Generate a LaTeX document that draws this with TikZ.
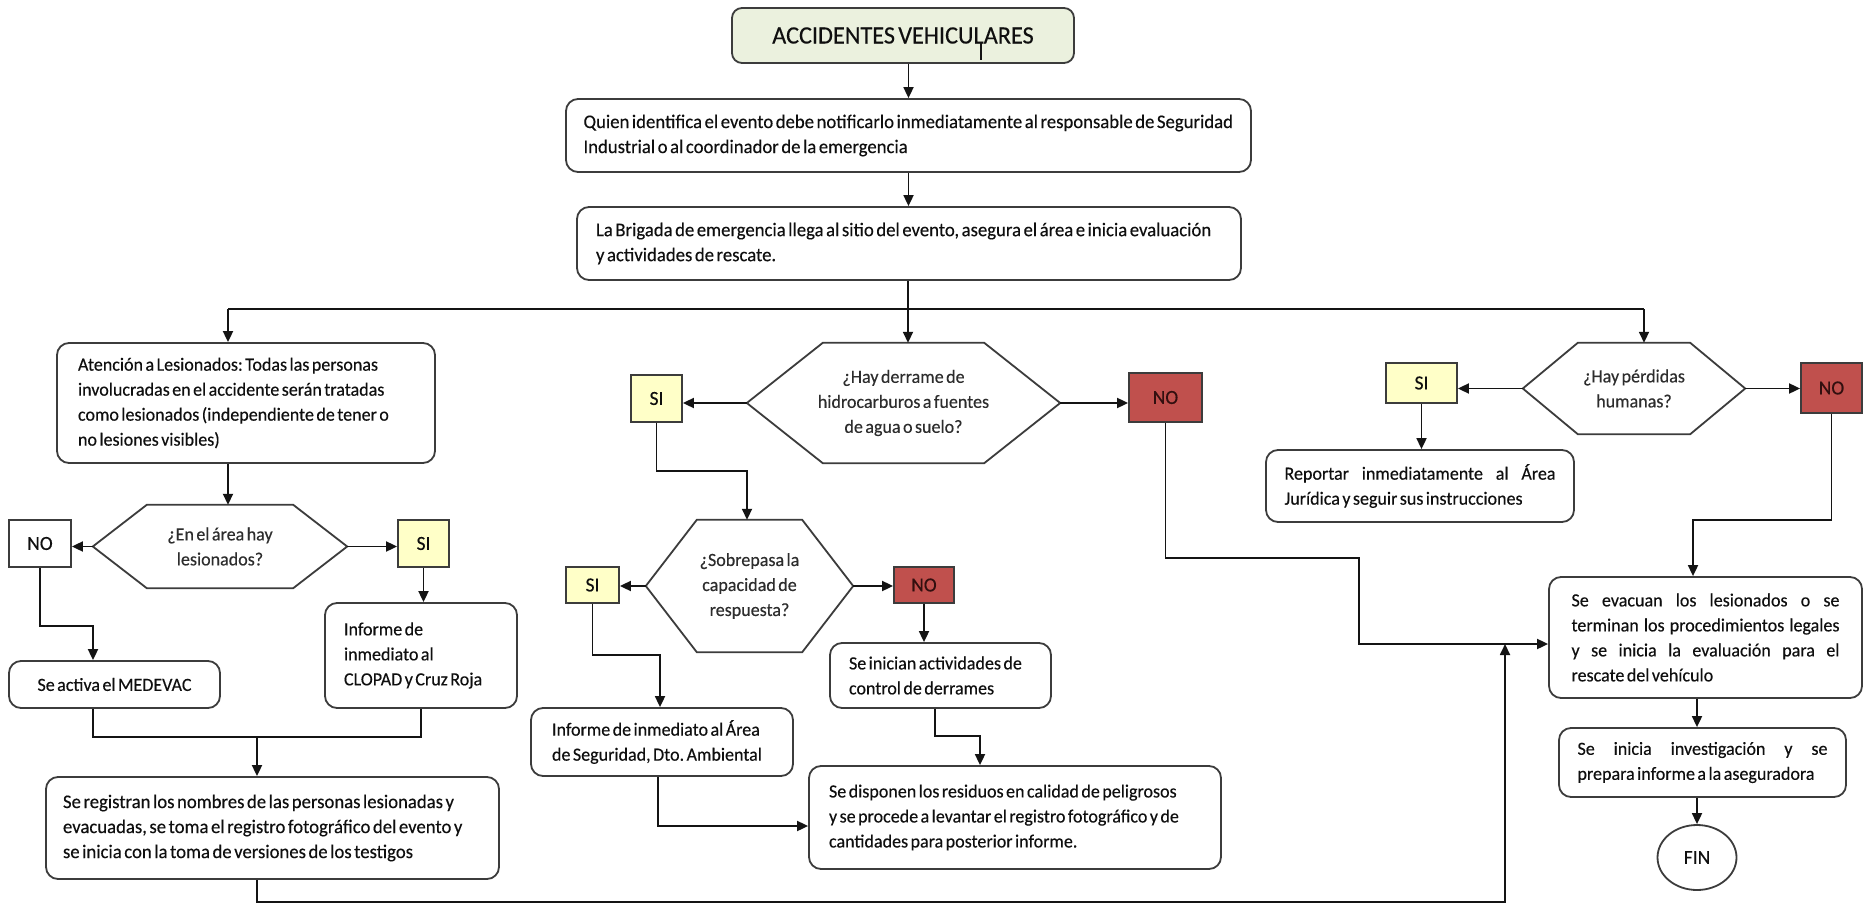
\documentclass[tikz,border=0pt]{standalone}
\usepackage{fontspec}
\setmainfont{Carlito}[FakeStretch=0.97,WordSpace=0.6,FakeBold=0.3]
\usetikzlibrary{arrows.meta,calc,shapes.geometric}
\definecolor{bordc}{RGB}{60,60,60}
\definecolor{linec}{RGB}{20,20,20}
\definecolor{yelf}{RGB}{255,255,200}
\definecolor{redf}{RGB}{192,80,77}
\definecolor{redt}{RGB}{50,15,15}
\definecolor{grnf}{RGB}{235,241,222}
\definecolor{txtc}{RGB}{15,15,15}
\definecolor{hext}{RGB}{45,45,45}
\newcommand{\fsz}{\fontsize{18.6}{25}\selectfont}
\newcommand{\fszb}{\fontsize{19.3}{25}\selectfont}
\newcommand{\jstline}[2]{\makebox[#1][s]{#2}}
\newcommand{\lftline}[2]{\makebox[#1][l]{#2}}
\newcommand{\hexdraw}[2]{%
  \draw[draw=bordc, line width=1.8pt] (#1.west) -- ([xshift=#2pt]#1.north west) -- ([xshift=-#2pt]#1.north east) -- (#1.east) -- ([xshift=-#2pt]#1.south east) -- ([xshift=#2pt]#1.south west) -- cycle;}
\frenchspacing
\begin{document}
\begin{tikzpicture}[x=1pt,y=-1pt,
  box/.style={draw=bordc, line width=1.8pt, rounded corners=12pt, fill=white, inner sep=0pt, align=center, font=\fsz, text=txtc},
  bigbox/.style={box, font=\fszb},
  sbox/.style={draw=bordc, line width=1.8pt, inner sep=0pt, font=\fontsize{20}{24}\selectfont, text=txtc},
  ybox/.style={sbox, fill=yelf},
  rbox/.style={sbox, fill=redf, text=redt},
  wbox/.style={sbox, fill=white},
  hexn/.style={inner sep=0pt, align=center, font=\fsz, text=hext},
  arr/.style={draw=linec, line width=1.8pt, -{Triangle[length=11pt,width=10pt]}},
  ln/.style={draw=linec, line width=1.8pt},
]
\useasboundingbox (0,0) rectangle (1868,904);
\fill[white] (0,0) rectangle (1868,904);

% ---- top
\node[box, fill=grnf, rounded corners=10pt, minimum width=342pt, minimum height=55pt, font=\fontsize{25}{28}\selectfont] (title) at (903,35.5) {ACCIDENTES VEHICULARES};
\draw[line width=1.5pt, linec] (981,42) -- (981,60);
\node[bigbox, minimum width=685pt, minimum height=73pt] (b1) at (908.5,135.5) {\lftline{650pt}{Quien identifica el evento debe notificarlo inmediatamente al responsable de Seguridad}\\\lftline{650pt}{Industrial o al coordinador de la emergencia}};
\node[bigbox, minimum width=664pt, minimum height=73pt] (b2) at (909,243.5) {\lftline{626pt}{La Brigada de emergencia llega al sitio del evento, asegura el área e inicia evaluación}\\\lftline{626pt}{y actividades de rescate.}};

% ---- left branch
\node[box, minimum width=378pt, minimum height=120pt] (aten) at (246,403) {\lftline{336pt}{Atención a Lesionados: Todas las personas}\\\lftline{336pt}{involucradas en el accidente serán tratadas}\\\lftline{336pt}{como lesionados (independiente de tener o}\\\lftline{336pt}{no lesiones visibles)}};
\node[hexn, minimum width=254pt, minimum height=83pt] (h1) at (220,546.5) {¿En el área hay\\lesionados?};
\hexdraw{h1}{54}
\node[wbox, minimum width=62pt, minimum height=47pt] (no1) at (40,543.5) {NO};
\node[ybox, minimum width=51pt, minimum height=47pt] (si1) at (423.5,543.5) {SI};
\node[box, minimum width=192pt, minimum height=105pt] (clopad) at (421,655.5) {\lftline{154pt}{Informe de}\\\lftline{154pt}{inmediato al}\\\lftline{154pt}{CLOPAD y Cruz Roja}};
\node[box, minimum width=211pt, minimum height=47pt] (medevac) at (114.5,684.5) {Se activa el MEDEVAC};
\node[bigbox, minimum width=453pt, minimum height=102pt] (reg) at (272.5,828) {\lftline{419pt}{Se registran los nombres de las personas lesionadas y}\\\lftline{419pt}{evacuadas, se toma el registro fotográfico del evento y}\\\lftline{419pt}{se inicia con la toma de versiones de los testigos}};

% ---- middle branch
\node[hexn, minimum width=313pt, minimum height=120pt] (h2) at (903.5,403) {¿Hay derrame de\\hidrocarburos a fuentes\\de agua o suelo?};
\hexdraw{h2}{76}
\node[ybox, minimum width=51pt, minimum height=47pt] (si2) at (656.5,398.5) {SI};
\node[rbox, minimum width=73pt, minimum height=49pt] (no2) at (1165.5,397.5) {NO};
\node[hexn, minimum width=207pt, minimum height=132pt] (h3) at (749.5,586) {¿Sobrepasa la\\capacidad de\\respuesta?};
\hexdraw{h3}{51}
\node[ybox, minimum width=53pt, minimum height=36pt] (si3) at (592.5,585) {SI};
\node[rbox, minimum width=60pt, minimum height=36pt] (no3) at (924,585) {NO};
\node[box, minimum width=262pt, minimum height=68pt] (area) at (662,742) {\lftline{220pt}{Informe de inmediato al Área}\\\lftline{220pt}{de Seguridad, Dto. Ambiental}};
\node[box, minimum width=221pt, minimum height=65pt] (inician) at (940.5,675.5) {\lftline{183pt}{Se inician actividades de}\\\lftline{183pt}{control de derrames}};
\node[box, minimum width=412pt, minimum height=103pt] (disponen) at (1015,817.5) {\lftline{372pt}{Se disponen los residuos en calidad de peligrosos}\\\lftline{372pt}{y se procede a levantar el registro fotográfico y de}\\\lftline{372pt}{cantidades para posterior informe.}};

% ---- right branch
\node[hexn, minimum width=222pt, minimum height=91pt] (h4) at (1634,388.5) {¿Hay pérdidas\\humanas?};
\hexdraw{h4}{55}
\node[ybox, minimum width=71pt, minimum height=40pt] (si4) at (1421.5,383) {SI};
\node[rbox, minimum width=61pt, minimum height=50pt] (no4) at (1831.5,388) {NO};
\node[box, minimum width=308pt, minimum height=72pt] (reportar) at (1420,486) {\jstline{271pt}{Reportar inmediatamente al Área}\\\lftline{271pt}{Jurídica y seguir sus instrucciones}};
\node[box, minimum width=313pt, minimum height=121pt] (evacuan) at (1705.5,637.5) {\jstline{268pt}{Se evacuan los lesionados o se}\\\jstline{268pt}{terminan los procedimientos legales}\\\jstline{268pt}{y se inicia la evaluación para el}\\\lftline{268pt}{rescate del vehículo}};
\node[box, minimum width=287pt, minimum height=69pt] (invest) at (1702.5,762.5) {\jstline{250pt}{Se inicia investigación y se}\\\lftline{250pt}{prepara informe a la aseguradora}};
\node[draw=bordc, line width=1.8pt, ellipse, inner sep=0pt, minimum width=79pt, minimum height=65pt, font=\fontsize{20}{24}\selectfont, text=txtc] (fin) at (1697,857.5) {FIN};

% ---- junction coordinates
\coordinate (j0) at (908,309);
\coordinate (jl) at (228,309);
\coordinate (jr) at (1644,309);
\coordinate (c1) at (93,626);
\coordinate (c2) at (257,737);
\coordinate (c3) at (1505,902);
\coordinate (c5) at (1359,644);
\coordinate (c6) at (1359,558);
\coordinate (c7) at (747,471);
\coordinate (c8) at (660,655);
\coordinate (c9) at (658,826);
\coordinate (c10) at (935,736);
\coordinate (c11) at (980,736);
\coordinate (c12) at (1693,520);

% ---- connectors
\draw[arr] (title.south -| b1.north) -- (b1.north);
\draw[arr] (b1.south) -- (b1.south |- b2.north);
\draw[ln] (b2.south -| j0) -- (j0);
\draw[ln] (jl) -- (jr);
\draw[arr] (jl) -- (jl |- aten.north);
\draw[arr] (j0) -- (j0 |- h2.north);
\draw[arr] (jr) -- (jr |- h4.north);

\draw[arr] (aten.south -| jl) -- (h1.north -| jl);
\draw[arr] (h1.west) -- (h1.west -| no1.east);
\draw[arr] (h1.east) -- (h1.east -| si1.west);
\draw[arr] (si1.south) -- (si1.south |- clopad.north);
\draw[arr] (no1.south) |- (c1) -- (c1 |- medevac.north);
\draw[ln] (medevac.south -| c1) |- (clopad.south |- c2) -- (clopad.south);
\draw[arr] (c2) -- (c2 |- reg.north);
\draw[arr] (reg.south -| c2) |- (c3) -- (c3 |- c5);

\draw[arr] (h2.west) -- (h2.west -| si2.east);
\draw[arr] (h2.east) -- (h2.east -| no2.west);
\draw[arr] (si2.south) |- (c7) -- (c7 |- h3.north);
\draw[arr] (no2.south) |- (c6) -- (c5) -- (c5 -| evacuan.west);
\draw[arr] (h3.west) -- (h3.west -| si3.east);
\draw[arr] (h3.east) -- (h3.east -| no3.west);
\draw[arr] (no3.south) -- (no3.south |- inician.north);
\draw[arr] (si3.south) |- (c8) -- (c8 |- area.north);
\draw[arr] (c9 |- area.south) -- (c9) -- (c9 -| disponen.west);
\draw[arr] (c10 |- inician.south) -- (c10) -- (c11) -- (c11 |- disponen.north);

\draw[arr] (h4.west) -- (h4.west -| si4.east);
\draw[arr] (h4.east) -- (h4.east -| no4.west);
\draw[arr] (si4.south) -- (si4.south |- reportar.north);
\draw[arr] (no4.south) |- (c12) -- (c12 |- evacuan.north);
\draw[arr] (evacuan.south -| fin.north) -- (invest.north -| fin.north);
\draw[arr] (invest.south -| fin.north) -- (fin.north);
\end{tikzpicture}
\end{document}
